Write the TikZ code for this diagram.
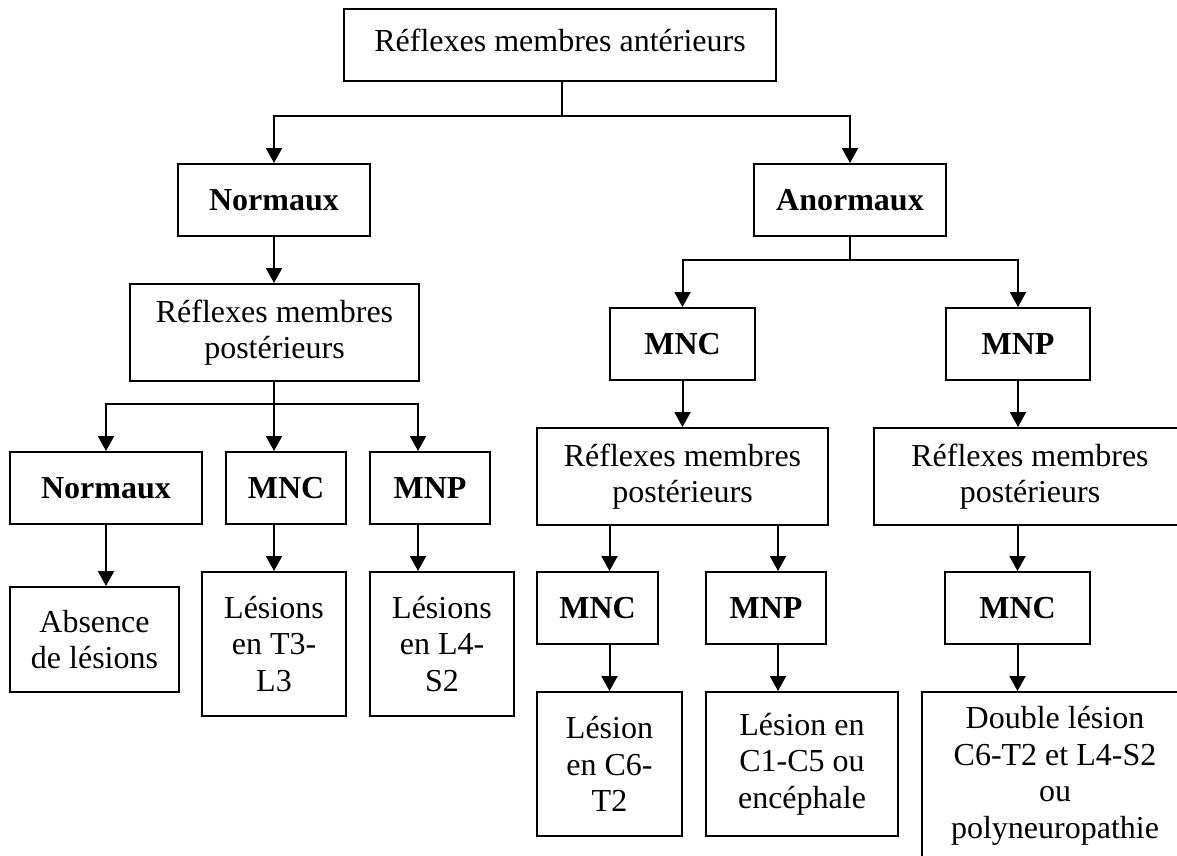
\documentclass[tikz,border=0pt]{standalone}
\usepackage{fontspec}
\setmainfont{Liberation Serif}
\usetikzlibrary{arrows.meta}

\begin{document}
\begin{tikzpicture}[
		x=0.5pt,y=-0.5pt,
		>={Triangle[length=7.5pt,width=8pt]},
		every node/.style={font=\fontsize{16}{18.3}\selectfont},
		boite/.style={draw, line width=1pt, align=center, inner sep=0pt},
		titre/.style={boite, font=\fontsize{16}{18.3}\selectfont\bfseries},
		fleche/.style={->, line width=1pt}
		]
		
		\useasboundingbox (0,0) rectangle (1177,856);
		
		% =========================
		% Top: anterior limb reflexes
		% =========================
		\node[boite, minimum width=216pt, minimum height=36pt, text depth=5pt] (r0) at (560,45) {Réflexes membres antérieurs};
		\coordinate (j0) at (562,116);
		
		\node[titre, minimum width=96pt, minimum height=36pt] (n1) at (274,200) {Normaux};
		\node[titre, minimum width=96pt, minimum height=36pt] (a1) at (850,200) {Anormaux};
		
		\draw[line width=1pt] (r0.south -| j0) -- (j0);
		\draw[fleche] (j0) -| (n1.north);
		\draw[fleche] (j0) -| (a1.north);
		
		% =========================
		% Left: normal branch
		% =========================
		\node[boite, minimum width=144.5pt, minimum height=48.5pt] (p1) at (274.5,332.5) {Réflexes membres\\postérieurs};
		\coordinate (j1) at (274,404);
		
		\node[titre, minimum width=96pt, minimum height=36pt] (n2) at (106,488) {Normaux};
		\node[titre, minimum width=60pt, minimum height=36pt] (c2) at (286,488) {MNC};
		\node[titre, minimum width=60pt, minimum height=36pt] (p2) at (430,488) {MNP};
		
		\node[boite, minimum width=84.5pt, minimum height=52.5pt] (l1) at (94.5,639.5) {Absence\\de lésions};
		\node[boite, minimum width=72pt, minimum height=72pt] (l2) at (274,644) {Lésions\\en T3-\\L3};
		\node[boite, minimum width=72pt, minimum height=72pt] (l3) at (442,644) {Lésions\\en L4-\\S2};
		
		\draw[fleche] (n1.south) -- (n1.south |- p1.north);
		\draw[line width=1pt] (p1.south -| j1) -- (j1);
		\draw[fleche] (j1) -| (n2.north);
		\draw[fleche] (j1) -- (j1 |- c2.north);
		\draw[fleche] (j1) -| ([xshift=-6pt]p2.north);
		
		\draw[fleche] (n2.south) -- (n2.south |- l1.north);
		\draw[fleche] (l2.north |- c2.south) -- (l2.north);
		\draw[fleche] ([xshift=-6pt]p2.south) -- ([xshift=-6pt]p2.south |- l3.north);
		
		% =========================
		% Right: abnormal branch
		% =========================
		\coordinate (j2) at (850,260);
		\node[titre, minimum width=72.5pt, minimum height=36pt] (c3) at (682.5,344) {MNC};
		\node[titre, minimum width=72pt, minimum height=36pt] (p3) at (1018,344) {MNP};
		
		\draw[line width=1pt] (a1.south) -- (j2);
		\draw[fleche] (j2) -| (c3.north);
		\draw[fleche] (j2) -| (p3.north);
		
		\node[boite, minimum width=145.5pt, minimum height=48.5pt] (r1) at (682.5,476.5) {Réflexes membres\\postérieurs};
		\node[boite, minimum width=156pt, minimum height=48.5pt] (r2) at (1030,476.5) {Réflexes membres\\postérieurs};
		
		\draw[fleche] (c3.south) -- (c3.south |- r1.north);
		\draw[fleche] (p3.south) -- (p3.south |- r2.north);
		
		\node[titre, minimum width=60.5pt, minimum height=36pt] (c4) at (597.5,608) {MNC};
		\node[titre, minimum width=60pt, minimum height=36pt] (p4) at (766,608) {MNP};
		\node[titre, minimum width=72.5pt, minimum height=36pt] (c5) at (1017.5,608) {MNC};
		
		\node[boite, minimum width=72.5pt, minimum height=72pt] (l4) at (609.5,764) {Lésion\\en C6-\\T2};
		\node[boite, minimum width=96pt, minimum height=72pt] (l5) at (802,764) {Lésion en\\C1-C5 ou\\encéphale};
		\node[boite, minimum width=133pt, minimum height=84pt] (l6) at (1055,776) {Double lésion\\C6-T2 et L4-S2\\ou\\polyneuropathie};
		
		\draw[fleche] (l4.north |- r1.south) -- (l4.north |- c4.north);
		\draw[fleche] ([xshift=6pt]p4.north |- r1.south) -- ([xshift=6pt]p4.north);
		\draw[fleche] (c5.north |- r2.south) -- (c5.north);
		
		\draw[fleche] (l4.north |- c4.south) -- (l4.north);
		\draw[fleche] ([xshift=6pt]p4.south) -- ([xshift=6pt]p4.south |- l5.north);
		\draw[fleche] (c5.south) -- (c5.south |- l6.north);
		
	\end{tikzpicture}
\end{document}
